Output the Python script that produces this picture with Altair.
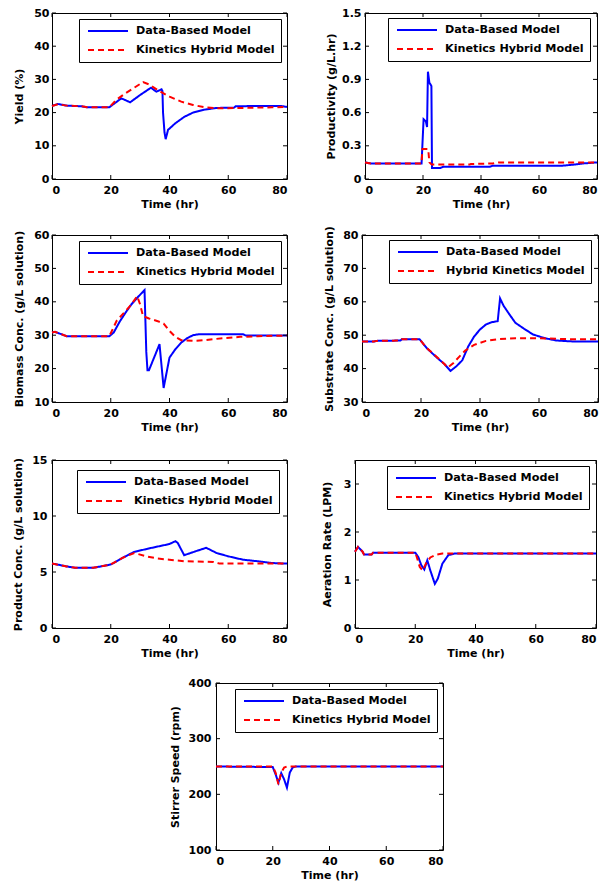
import altair as alt
import pandas as pd

FONT = "DejaVu Sans"
BLUE = "#0000ff"
RED = "#ff0000"
DB = "Data-Based Model"
KH = "Kinetics Hybrid Model"
HK = "Hybrid Kinetics Model"

x_ticks = [0, 20, 40, 60, 80]

# ---- Yield (%) ----
yield_t_db = [0, 2, 5, 10, 12, 19.5, 23.6, 26.6, 30, 33.7, 35.5, 37.3, 37.6, 37.8, 38.3, 38.7, 39.5, 42, 45, 48, 52, 56, 62, 62.5, 70, 78, 80]
yield_db = [22, 22.6, 22.1, 21.9, 21.6, 21.6, 24.3, 23.1, 25.3, 27.5, 26.3, 27, 26.5, 20, 14, 12, 14.8, 16.8, 18.7, 20, 20.9, 21.4, 21.5, 21.9, 22, 22, 21.7]
yield_t_kh = [0, 2, 5, 10, 12, 19.5, 22, 25, 28, 31, 33, 36, 40, 44, 48, 52, 56, 65, 75, 80]
yield_kh = [22, 22.5, 22.1, 21.9, 21.6, 21.6, 23.9, 25.8, 27.5, 29.2, 28.5, 26.8, 24.8, 23.3, 22.3, 21.6, 21.3, 21.4, 21.6, 21.7]
yield_ticks = [0, 10, 20, 30, 40, 50]

# ---- Productivity (g/L.hr) ----
prod_t_db = [0, 2, 19.5, 20.2, 21.0, 21.4, 21.7, 22.2, 22.7, 22.9, 23.1, 26, 27, 43, 44, 68, 72, 75, 80]
prod_db = [0.15, 0.14, 0.14, 0.54, 0.52, 0.47, 0.97, 0.87, 0.85, 0.84, 0.10, 0.10, 0.11, 0.11, 0.12, 0.12, 0.13, 0.14, 0.15]
prod_t_kh = [0, 2, 19.5, 19.8, 21.8, 22.2, 23, 36, 36.5, 44, 46, 80]
prod_kh = [0.15, 0.14, 0.14, 0.27, 0.27, 0.15, 0.13, 0.13, 0.135, 0.14, 0.15, 0.15]
prod_ticks = [0, 0.3, 0.6, 0.9, 1.2, 1.5]

# ---- Biomass Conc. ----
bio_t_db = [0, 1, 5, 19.5, 21, 23, 25, 27, 29, 31.5, 32.1, 32.5, 33, 36.6, 38, 40, 42, 44, 46, 48, 50, 65, 66, 80]
bio_db = [30.8, 31, 29.7, 29.7, 30.8, 34, 36.7, 39.2, 41.2, 43.5, 25, 19.5, 19.5, 27.3, 14.2, 23.3, 25.8, 27.8, 29.1, 30, 30.3, 30.3, 29.9, 29.9]
bio_t_kh = [0, 1, 5, 19.5, 20.5, 22, 25, 27, 29, 30, 31, 33, 36, 38, 40, 42, 44, 48, 52, 58, 64, 70, 80]
bio_kh = [30.8, 31, 29.7, 29.7, 31.5, 34.3, 37.2, 39.2, 41.7, 39.2, 35.7, 35, 34.2, 33.5, 31.3, 29.5, 28.5, 28.3, 28.5, 29.1, 29.5, 29.7, 29.9]
bio_ticks = [10, 20, 30, 40, 50, 60]

# ---- Substrate Conc. ----
sub_t_db = [0, 4, 5, 13, 13.5, 19.5, 22, 25, 28, 30, 32, 34, 36, 38, 40, 42, 44, 46, 46.3, 46.8, 48, 50, 52, 55, 58, 62, 66, 72, 80]
sub_db = [48.1, 48.1, 48.3, 48.4, 48.8, 48.8, 46.1, 43.6, 41.3, 39.3, 40.7, 42.5, 46.6, 49.6, 51.7, 53.2, 53.9, 54.2, 56.8, 61, 58.8, 56.2, 53.7, 51.9, 50.2, 49.1, 48.4, 48.1, 48.1]
sub_t_kh = [0, 4, 5, 13, 13.5, 19.5, 22, 25, 28, 29, 31, 33, 35, 38, 42, 46, 52, 60, 70, 80]
sub_kh = [48.1, 48.1, 48.3, 48.4, 48.8, 48.8, 46.1, 43.8, 41.3, 40.3, 41.7, 43.6, 45.4, 47.1, 48.3, 48.8, 49.1, 49.1, 48.8, 48.8]
sub_ticks = [30, 40, 50, 60, 70, 80]

# ---- Product Conc. ----
pc_t_db = [0, 5, 8, 14, 20, 24, 28, 34, 40, 42, 42.8, 45, 49, 52.5, 56, 60, 65, 70, 75, 80]
pc_db = [5.76, 5.5, 5.37, 5.37, 5.67, 6.26, 6.8, 7.16, 7.5, 7.75, 7.6, 6.5, 6.86, 7.16, 6.7, 6.4, 6.1, 5.96, 5.8, 5.75]
pc_t_kh = [0, 5, 8, 14, 20, 24, 28, 32, 36, 40, 45, 55, 57, 80]
pc_kh = [5.76, 5.5, 5.37, 5.37, 5.67, 6.26, 6.7, 6.4, 6.2, 6.1, 5.96, 5.9, 5.75, 5.75]
pc_ticks = [0, 5, 10, 15]

# ---- Aeration Rate (LPM) ----
aer_t_db = [0, 1, 2.5, 3, 5.5, 6, 20, 21, 22, 23, 24, 25, 26.5, 27.5, 29, 31, 33, 80]
aer_db = [1.59, 1.69, 1.59, 1.53, 1.53, 1.57, 1.57, 1.48, 1.31, 1.22, 1.41, 1.2, 0.92, 1.03, 1.34, 1.52, 1.55, 1.55]
aer_t_kh = [0, 1, 2.5, 3, 5.5, 6, 20, 20.5, 21.5, 22.5, 23.5, 25, 27, 29, 80]
aer_kh = [1.59, 1.69, 1.59, 1.53, 1.53, 1.57, 1.57, 1.48, 1.27, 1.2, 1.34, 1.47, 1.53, 1.55, 1.55]
aer_ticks = [0, 1, 2, 3]

# ---- Stirrer Speed (rpm) ----
st_t_db = [0, 20, 21, 22, 23, 24, 25, 26, 27, 28, 80]
st_db = [250, 249, 236, 221, 238, 227, 212, 239, 248, 250, 250]
st_t_kh = [0, 20, 21, 22, 23, 24, 25, 80]
st_kh = [250, 250, 239, 218, 239, 248, 250, 250]
st_ticks = [100, 200, 300, 400]


def panel(t_db, v_db, t_kh, v_kh, names, ydom, yticks, ytitle, w, h, lx, ly,
          yfmt="d", ylp=3, ytp=9):
    d1 = pd.DataFrame({"t": t_db, "v": v_db, "model": names[0]})
    d2 = pd.DataFrame({"t": t_kh, "v": v_kh, "model": names[1]})
    X = alt.X("t:Q", scale=alt.Scale(domain=[0, 80], nice=False, zero=False),
              axis=alt.Axis(values=x_ticks, title="Time (hr)", format="d",
                            labelPadding=5, titlePadding=3))
    Y = alt.Y("v:Q", scale=alt.Scale(domain=ydom, nice=False, zero=False),
              axis=alt.Axis(values=yticks, title=ytitle, format=yfmt,
                            labelPadding=ylp, titlePadding=ytp))
    leg = alt.Legend(title=None, orient="none", legendX=lx, legendY=ly,
                     direction="vertical", fillColor="white", strokeColor="black",
                     padding=6, symbolType="M-4,0L4,0", symbolSize=100,
                     symbolStrokeWidth=2, symbolOffset=17, labelOffset=22,
                     rowPadding=7, labelFont=FONT, labelFontSize=11.2,
                     labelFontWeight="bold", labelColor="black", labelLimit=400)
    C = alt.Color("model:N", scale=alt.Scale(domain=names, range=[BLUE, RED]), legend=leg)
    D = alt.StrokeDash("model:N", scale=alt.Scale(domain=names, range=[[1, 0], [6, 4]]), legend=leg)
    l1 = alt.Chart(d1).mark_line(strokeWidth=2).encode(x=X, y=Y, color=C, strokeDash=D)
    l2 = alt.Chart(d2).mark_line(strokeWidth=2).encode(x=X, y=Y, color=C, strokeDash=D)
    xt = pd.DataFrame({"t": x_ticks})
    yt = pd.DataFrame({"v": yticks})
    tb = alt.Chart(xt).mark_rule(color="black", strokeWidth=1).encode(x=X, y=alt.value(h), y2=alt.value(h - 4))
    tt = alt.Chart(xt).mark_rule(color="black", strokeWidth=1).encode(x=X, y=alt.value(0), y2=alt.value(4))
    tl = alt.Chart(yt).mark_rule(color="black", strokeWidth=1).encode(y=Y, x=alt.value(0), x2=alt.value(4))
    tr = alt.Chart(yt).mark_rule(color="black", strokeWidth=1).encode(y=Y, x=alt.value(w), x2=alt.value(w - 4))
    return alt.layer(l1, l2, tb, tt, tl, tr).properties(width=w, height=h)


def indep(c):
    return (c.resolve_scale(x="independent", y="independent", color="independent", strokeDash="independent")
             .resolve_axis(x="independent", y="independent")
             .resolve_legend(color="independent", strokeDash="independent"))


p1 = panel(yield_t_db, yield_db, yield_t_kh, yield_kh, [DB, KH], [0, 50], yield_ticks,
           "Yield (%)", 235, 166, 27, 6, ylp=3, ytp=9)
p2 = panel(prod_t_db, prod_db, prod_t_kh, prod_kh, [DB, KH], [0, 1.5], prod_ticks,
           "Productivity (g/L.hr)", 232, 166, 23, 5, yfmt=".1~f", ylp=4, ytp=5)
p3 = panel(bio_t_db, bio_db, bio_t_kh, bio_kh, [DB, KH], [10, 60], bio_ticks,
           "Biomass Conc. (g/L solution)", 235, 167, 27, 6, ylp=3, ytp=9)
p4 = panel(sub_t_db, sub_db, sub_t_kh, sub_kh, [DB, HK], [30, 80], sub_ticks,
           "Substrate Conc. (g/L solution)", 236, 167, 27, 5, ylp=4, ytp=8)
p5 = panel(pc_t_db, pc_db, pc_t_kh, pc_kh, [DB, KH], [0, 15], pc_ticks,
           "Product Conc. (g/L solution)", 235, 168, 25, 10, ylp=5, ytp=8)
p6 = panel(aer_t_db, aer_db, aer_t_kh, aer_kh, [DB, KH], [0, 3.5], aer_ticks,
           "Aeration Rate (LPM)", 241, 168, 32, 6, ylp=4, ytp=11)
p7 = panel(st_t_db, st_db, st_t_kh, st_kh, [DB, KH], [100, 400], st_ticks,
           "Stirrer Speed (rpm)", 227, 167, 19, 6, ylp=5, ytp=8)

spacer = alt.Chart(pd.DataFrame({"a": [0]})).mark_point(opacity=0, size=1).encode(
    x=alt.value(1), y=alt.value(1)
).properties(width=157, height=167, view=alt.ViewBackground(stroke="transparent"))

row1 = indep(alt.hconcat(p1, p2, spacing=78, bounds="flush"))
row2 = indep(alt.hconcat(p3, p4, spacing=75, bounds="flush"))
row3 = indep(alt.hconcat(p5, p6, spacing=68, bounds="flush"))
row4 = indep(alt.hconcat(spacer, p7, spacing=7, bounds="flush"))

bottom = indep(alt.vconcat(row3, row4, spacing=17))
lower = indep(alt.vconcat(row2, bottom, spacing=20))
chart = indep(alt.vconcat(row1, lower, spacing=15))

chart = chart.properties(
    padding={"left": 4, "top": -2, "right": 2, "bottom": 0}
).configure_view(
    stroke="black", strokeWidth=1
).configure_axis(
    labelFont=FONT, labelFontSize=11, labelFontWeight="bold", labelColor="black",
    titleFont=FONT, titleFontSize=11, titleFontWeight="bold", titleColor="black",
    ticks=False, domain=False, grid=False
)

chart.save("out.html", embed_options={"renderer": "svg", "actions": False})
